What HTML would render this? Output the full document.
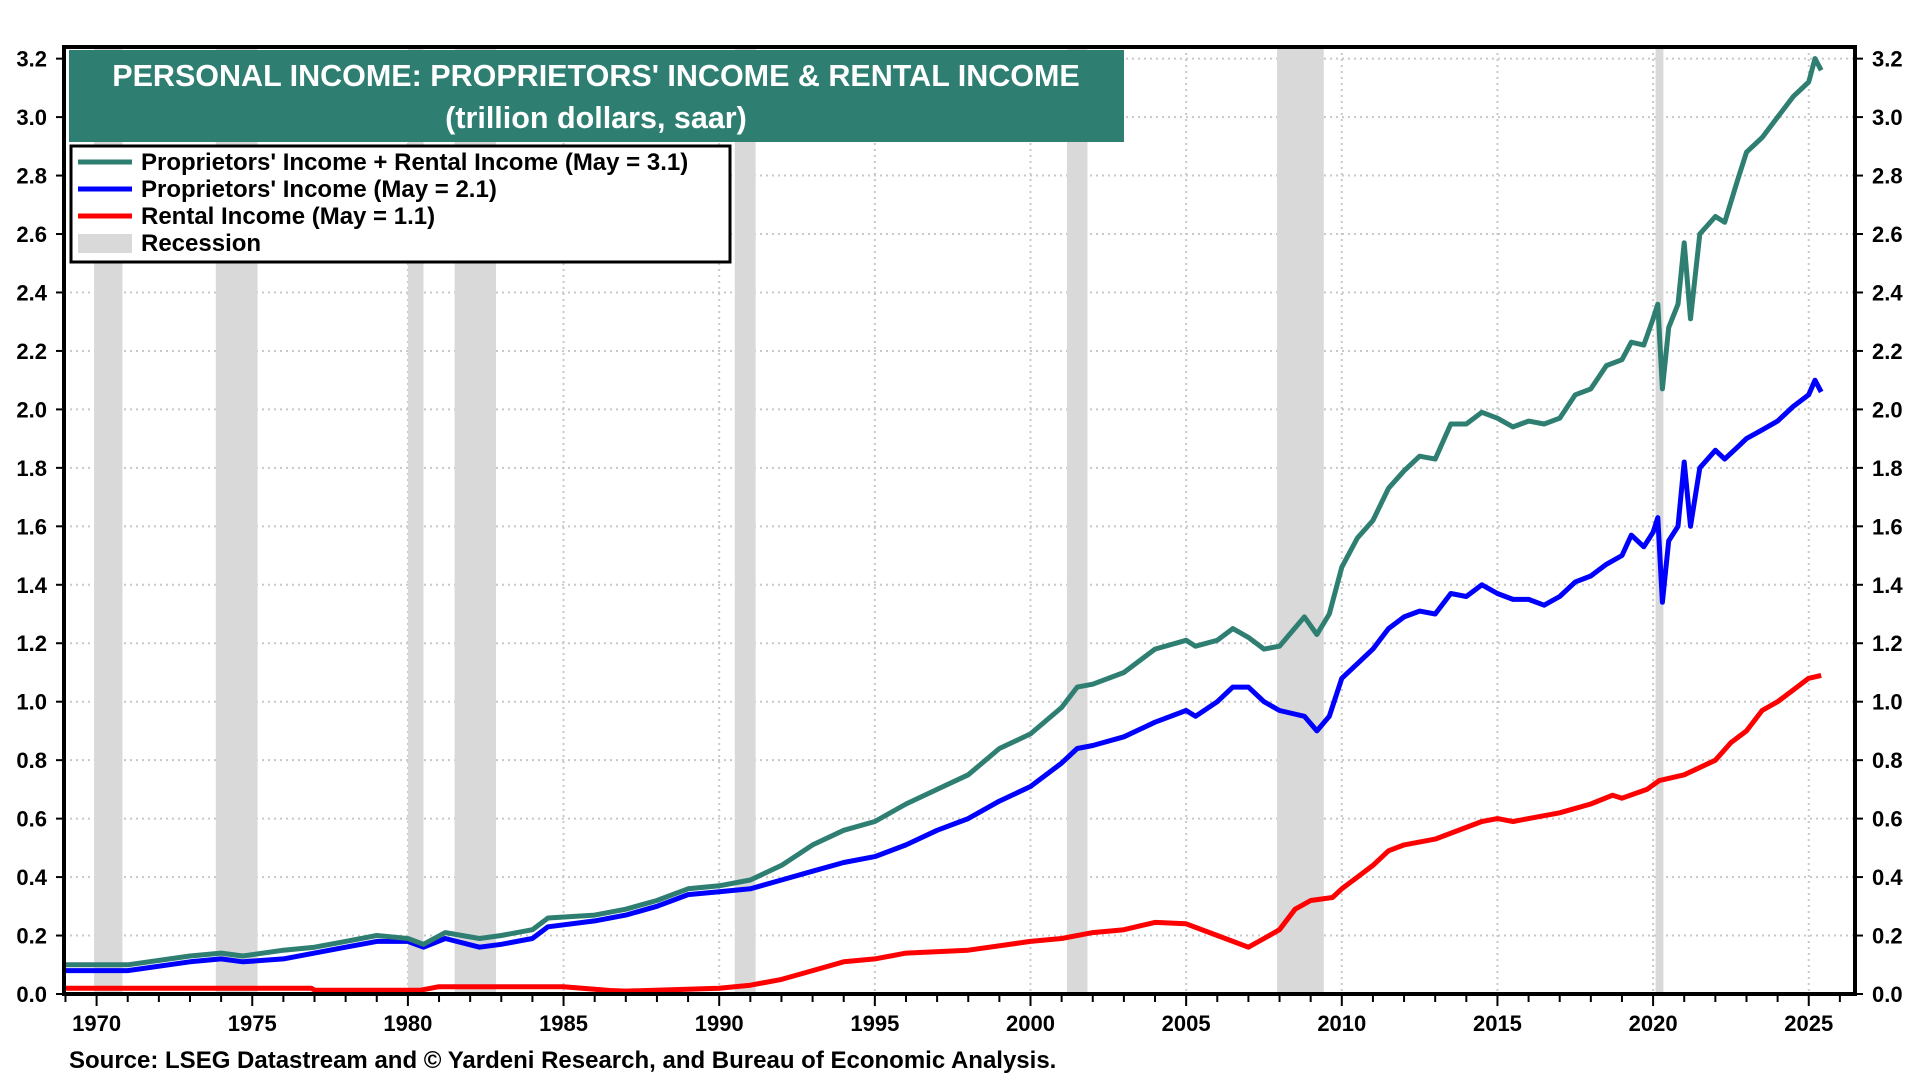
<!DOCTYPE html>
<html><head><meta charset="utf-8"><style>
html,body{margin:0;padding:0;background:#fff;width:1920px;height:1080px;overflow:hidden}
svg{display:block;font-family:"Liberation Sans",Arial,sans-serif;font-weight:bold}
</style></head><body>
<svg id="chart" width="1920" height="1080" xmlns="http://www.w3.org/2000/svg">
<g id="grid"></g>
<g id="rec"></g>
<g id="series"></g>
<g id="axes"></g>
<rect x="69" y="50" width="1055" height="92" fill="#2E7F72"/>
<text x="596" y="86" fill="#fff" font-size="30.5" text-anchor="middle">PERSONAL INCOME: PROPRIETORS' INCOME &amp; RENTAL INCOME</text>
<text x="596" y="128" fill="#fff" font-size="30.5" text-anchor="middle">(trillion dollars, saar)</text>
<g>
<rect x="71" y="146" width="659" height="116" fill="#fff" stroke="#000" stroke-width="3"/>
<line x1="78" y1="162" x2="132" y2="162" stroke="#2E7F72" stroke-width="5"/>
<text x="141" y="170" font-size="24">Proprietors' Income + Rental Income (May = 3.1)</text>
<line x1="78" y1="189" x2="132" y2="189" stroke="#0000FF" stroke-width="5"/>
<text x="141" y="197" font-size="24">Proprietors' Income (May = 2.1)</text>
<line x1="78" y1="216" x2="132" y2="216" stroke="#FF0000" stroke-width="5"/>
<text x="141" y="224" font-size="24">Rental Income (May = 1.1)</text>
<rect x="78" y="234" width="54" height="19" fill="#d9d9d9"/>
<text x="141" y="251" font-size="24">Recession</text>
</g>
<text x="69" y="1068" font-size="24">Source: LSEG Datastream and © Yardeni Research, and Bureau of Economic Analysis.</text>
</svg>
<script>
const totDates=[1969,1971,1973,1974,1974.7,1976,1977,1978,1979,1980,1980.5,1981.2,1982.3,1983,1984,1984.5,1986,1987,1988,1989,1990,1991,1992,1993,1994,1995,1996,1997,1998,1999,2000,2001,2001.5,2002,2003,2004,2005,2005.3,2006,2006.5,2007,2007.5,2008,2008.8,2009.2,2009.6,2010,2010.5,2011,2011.5,2012,2012.5,2013,2013.5,2014,2014.5,2015,2015.5,2016,2016.5,2017,2017.5,2018,2018.5,2019,2019.3,2019.7,2020,2020.15,2020.3,2020.5,2020.8,2021.0,2021.2,2021.5,2022,2022.3,2022.7,2023,2023.5,2024,2024.5,2025,2025.2,2025.4];
const totalVals=[0.10,0.10,0.13,0.14,0.13,0.15,0.16,0.18,0.20,0.19,0.17,0.21,0.19,0.20,0.22,0.26,0.27,0.29,0.32,0.36,0.37,0.39,0.44,0.51,0.56,0.59,0.65,0.70,0.75,0.84,0.89,0.98,1.05,1.06,1.10,1.18,1.21,1.19,1.21,1.25,1.22,1.18,1.19,1.29,1.23,1.30,1.46,1.56,1.62,1.73,1.79,1.84,1.83,1.95,1.95,1.99,1.97,1.94,1.96,1.95,1.97,2.05,2.07,2.15,2.17,2.23,2.22,2.31,2.36,2.07,2.28,2.36,2.57,2.31,2.60,2.66,2.64,2.78,2.88,2.93,3.00,3.07,3.12,3.20,3.16];
const propVals=[0.08,0.08,0.11,0.12,0.11,0.12,0.14,0.16,0.18,0.18,0.16,0.19,0.16,0.17,0.19,0.23,0.25,0.27,0.30,0.34,0.35,0.36,0.39,0.42,0.45,0.47,0.51,0.56,0.60,0.66,0.71,0.79,0.84,0.85,0.88,0.93,0.97,0.95,1.00,1.05,1.05,1.00,0.97,0.95,0.90,0.95,1.08,1.13,1.18,1.25,1.29,1.31,1.30,1.37,1.36,1.40,1.37,1.35,1.35,1.33,1.36,1.41,1.43,1.47,1.50,1.57,1.53,1.58,1.63,1.34,1.55,1.60,1.82,1.60,1.80,1.86,1.83,1.87,1.90,1.93,1.96,2.01,2.05,2.10,2.06];
const rentDates=[1969,1973,1976.9,1977,1980.4,1981,1985,1986.5,1987,1990,1991,1992,1993,1994,1995,1996,1998,2000,2001,2002,2003,2004,2005,2006,2007,2007.5,2008,2008.5,2009,2009.7,2010,2010.5,2011,2011.5,2012,2013,2014,2014.5,2015,2015.5,2016,2017,2018,2018.7,2019,2019.8,2020.2,2021,2022,2022.5,2023,2023.5,2024,2024.5,2025,2025.4];
const rentVals=[0.02,0.02,0.02,0.013,0.013,0.025,0.025,0.012,0.01,0.02,0.03,0.05,0.08,0.11,0.12,0.14,0.15,0.18,0.19,0.21,0.22,0.245,0.24,0.20,0.16,0.19,0.22,0.29,0.32,0.33,0.36,0.40,0.44,0.49,0.51,0.53,0.57,0.59,0.60,0.59,0.60,0.62,0.65,0.68,0.67,0.70,0.73,0.75,0.80,0.86,0.90,0.97,1.00,1.04,1.08,1.09];
const recStarts=[1969.92,1973.83,1980.0,1981.5,1990.5,2001.17,2007.92,2020.08];
const recEnds=[1970.83,1975.17,1980.5,1982.83,1991.17,2001.83,2009.42,2020.33];
const yTicks=[0,0.2,0.4,0.6,0.8,1.0,1.2,1.4,1.6,1.8,2.0,2.2,2.4,2.6,2.8,3.0,3.2];
const xTicks=[1970,1975,1980,1985,1990,1995,2000,2005,2010,2015,2020,2025];

const NS="http://www.w3.org/2000/svg";
const L=64,R=1855,T=47,B=994;
const X=v=>96.6+(v-1970)*31.13;
const Y=v=>994-v*292.3;
function mk(p,tag,attrs){const e=document.createElementNS(NS,tag);for(const k in attrs)e.setAttribute(k,attrs[k]);p.appendChild(e);return e;}
const grid=document.getElementById('grid'),rec=document.getElementById('rec'),ser=document.getElementById('series'),ax=document.getElementById('axes');
yTicks.forEach(v=>{
 const g=mk(grid,'line',{x1:L,x2:R,y1:Y(v),y2:Y(v),stroke:'#c8c8c8','stroke-width':2,'stroke-dasharray':'2,4'});
 
 
 const lt=mk(ax,'text',{x:47,y:Y(v)+8,'font-size':22,'text-anchor':'end'});lt.textContent=v.toFixed(1);
 
 
 const rt=mk(ax,'text',{x:1872,y:Y(v)+8,'font-size':22});rt.textContent=v.toFixed(1);
 
 
 mk(ax,'line',{x1:L-8,x2:L,y1:Y(v),y2:Y(v),stroke:'#000','stroke-width':2});
 mk(ax,'line',{x1:R,x2:R+8,y1:Y(v),y2:Y(v),stroke:'#000','stroke-width':2});
});
xTicks.forEach(v=>{
 const g=mk(grid,'line',{x1:X(v),x2:X(v),y1:T,y2:B,stroke:'#c8c8c8','stroke-width':2,'stroke-dasharray':'2,4'});
 
 
 const t=mk(ax,'text',{x:X(v),y:1031,'font-size':22,'text-anchor':'middle'});t.textContent=v;
 
 
});
for(let yr=1969;yr<=2026;yr++){const big=yr%5===0;mk(ax,'line',{x1:X(yr),x2:X(yr),y1:B,y2:B+(big?12:8),stroke:'#000','stroke-width':2});}
recStarts.forEach((s,i)=>{
 const r=mk(rec,'rect',{x:X(s),y:T,width:X(recEnds[i])-X(s),height:B-T,fill:'#d9d9d9'});
 
 
});
function line(dates,vals,color,name){
 const d=dates.map((t,i)=>(i?'L':'M')+X(t).toFixed(1)+','+Y(vals[i]).toFixed(1)).join(' ');
 const p=mk(ser,'path',{d:d,fill:'none',stroke:color,'stroke-width':5,'stroke-linejoin':'round'});
 
 
}
line(rentDates,rentVals,'#FF0000','rental-income-line');
line(totDates,propVals,'#0000FF','proprietors-income-line');
line(totDates,totalVals,'#2E7F72','total-income-line');
mk(ax,'rect',{x:L,y:T,width:R-L,height:B-T,fill:'none',stroke:'#000','stroke-width':4});
</script>
</body></html>
